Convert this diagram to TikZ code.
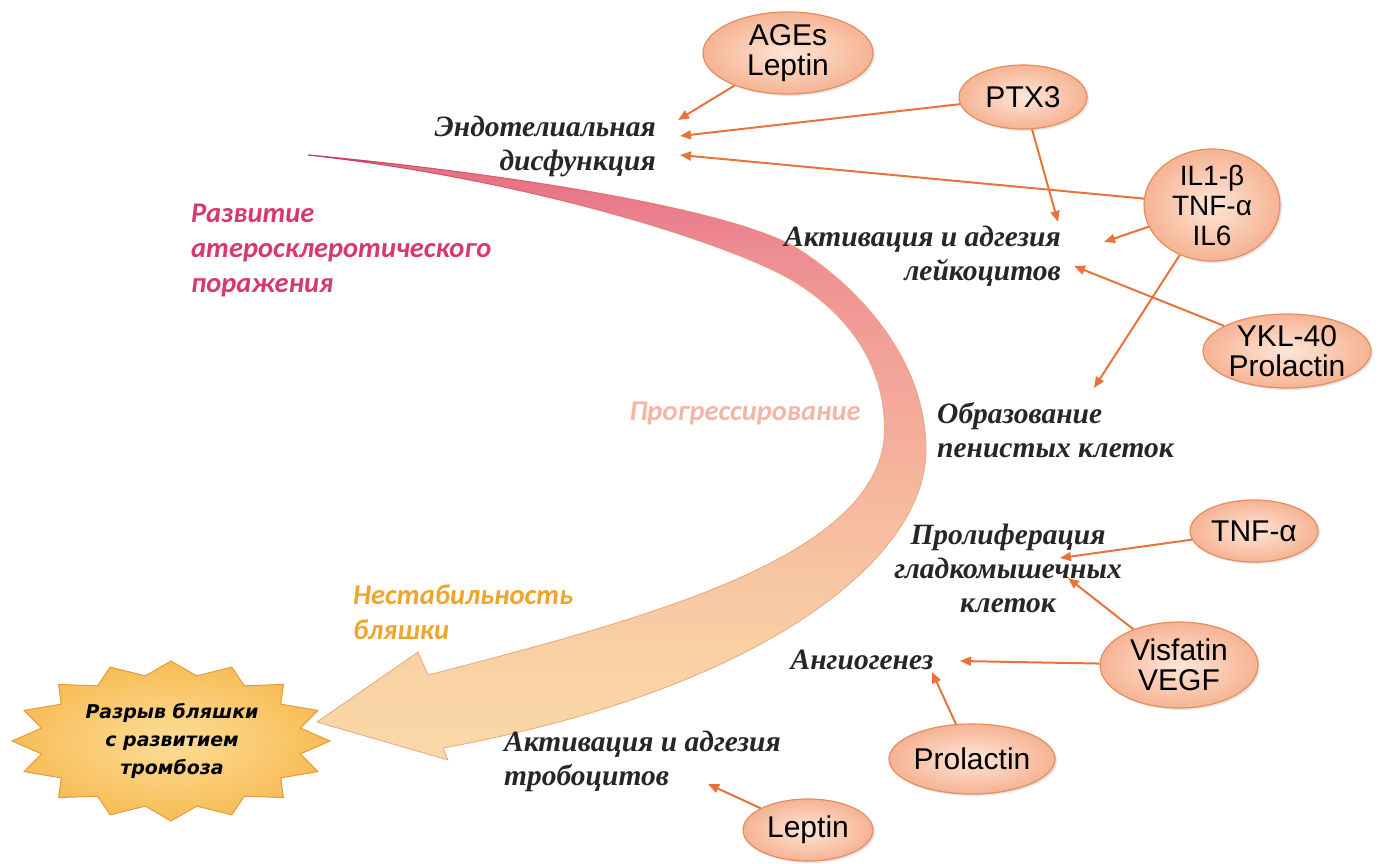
\documentclass[tikz,border=0pt]{standalone}
\usepackage{fontspec}
\setmainfont{Liberation Serif}
\setsansfont{Liberation Sans}
\newfontfamily\phasefont{Carlito}
\newfontfamily\burstfont{DejaVu Sans}
\usetikzlibrary{shapes.geometric,arrows.meta,shadows,fadings}
\definecolor{linkorange}{HTML}{E8733A}
\definecolor{rimorange}{HTML}{E38E62}
\definecolor{peachlight}{HTML}{FDE6D8}
\definecolor{peachdark}{HTML}{F6B393}
\definecolor{arcA}{HTML}{E66A82}
\definecolor{arcB}{HTML}{EE8C93}
\definecolor{arcC}{HTML}{F2A198}
\definecolor{arcD}{HTML}{F5B09C}
\definecolor{arcE}{HTML}{F7C3A1}
\definecolor{arcF}{HTML}{F9D0A4}
\definecolor{arcG}{HTML}{FAD9A8}
\definecolor{arcrim}{HTML}{EAA67E}
\definecolor{arccrimson}{HTML}{C83562}
\definecolor{burstlight}{HTML}{FDDD98}
\definecolor{burstdark}{HTML}{F7BC55}
\definecolor{burstrim}{HTML}{E59A3C}
\definecolor{devpink}{HTML}{D8386B}
\definecolor{progpink}{HTML}{F4B6A4}
\definecolor{instorange}{HTML}{EFA52C}
\pgfdeclareverticalshading{arcshade}{100bp}{color(0bp)=(arcG); color(25bp)=(arcG); color(34bp)=(arcF); color(41.5bp)=(arcE); color(50.6bp)=(arcD); color(58.9bp)=(arcC); color(67.1bp)=(arcB); color(75bp)=(arcA); color(100bp)=(arcA)}
\begin{document}
\begin{tikzpicture}[x=1pt,y=-1pt]
	\tikzstyle{factor}=[ellipse,draw=rimorange,line width=1.2pt,inner color=peachlight,outer color=peachdark,text=black,align=center,inner sep=0pt,font=\sffamily\fontsize{30}{30}\selectfont,drop shadow={opacity=0.2,shadow xshift=2pt,shadow yshift=-2pt}] % factor = marker ellipse
	\tikzstyle{stage}=[align=center,inner sep=1pt,text=black!85,font=\bfseries\itshape\fontsize{29.5}{34}\selectfont] % stage = process step
	\tikzstyle{phase}=[align=left,inner sep=1pt,font=\phasefont\bfseries\itshape\fontsize{28.5}{35}\selectfont] % phase = stage of lesion
	\tikzstyle{link}=[draw=linkorange,line width=2pt,-{Triangle[length=11pt,width=9pt]}]
	\useasboundingbox (0,0) rectangle (1385,863);

	% big curved arrow
	\shade[shading=arcshade,draw=arcrim,line width=0.8pt]
		(308,155) .. controls (520,175) and (740,211) .. (800,250)
		.. controls (860,289) and (926,360) .. (926,450)
		.. controls (926,560) and (760,690) .. (443,748)
		-- (448,760) -- (317,722) -- (418,652) -- (428,675)
		.. controls (640,620) and (870,560) .. (884,440)
		.. controls (889,368) and (848,312) .. (788,278)
		.. controls (720,240) and (520,178) .. (308,155) -- cycle;
	\draw[arccrimson,line width=1.1pt,path fading=east] (800,250) .. controls (740,211) and (520,175) .. (308,155)
		.. controls (520,178) and (720,240) .. (788,278);

	% starburst
	\shade[inner color=burstlight,outer color=burstdark,draw=burstrim,line width=1pt]
		plot[samples at={0,...,31}] ({171+159*(1-0.17*mod(\x,2))*cos(\x*11.25)},{741+80*(1-0.17*mod(\x,2))*sin(\x*11.25)}) -- cycle;
	\node(rupture)[align=center,font=\burstfont\bfseries\itshape\fontsize{19}{28}\selectfont] at (172,741) {Разрыв бляшки\\с развитием\\тромбоза};

	% phases
	\node(develop)[phase,text=devpink,anchor=west] at (190,250) {Развитие\\атеросклеротического\\поражения};
	\node(progress)[phase,text=progpink] at (745,413) {Прогрессирование};
	\node(unstable)[phase,text=instorange,anchor=west] at (352,612) {Нестабильность\\бляшки};

	% stages
	\node(endo)[stage,align=right,anchor=east] at (657,146) {Эндотелиальная\\дисфункция};
	\node(leuko)[stage,align=right,anchor=east] at (1062,256) {Активация и адгезия\\лейкоцитов};
	\node(foam)[stage,align=left,anchor=west] at (936,430) {Образование\\пенистых клеток};
	\node(prolif)[stage] at (1008,568) {Пролиферация\\гладкомышечных\\клеток};
	\node(angio)[stage] at (862,660) {Ангиогенез};
	\node(platelet)[stage,align=left,anchor=west] at (503,761) {Активация и адгезия\\тробоцитов};

	% factors
	\node(ages)[factor,minimum width=170pt,minimum height=82pt] at (788,53) {AGEs\\Leptin};
	\node(ptx)[factor,minimum width=128pt,minimum height=64pt] at (1023,97) {PTX3};
	\node(il)[factor,minimum width=136pt,minimum height=112pt,inner ysep=-10pt,font=\sffamily\fontsize{28}{30}\selectfont] at (1212,205) {IL1-β\\TNF-α\\IL6};
	\node(ykl)[factor,minimum width=168pt,minimum height=74pt] at (1287,351) {YKL-40\\Prolactin};
	\node(tnf)[factor,minimum width=128pt,minimum height=62pt] at (1254,531) {TNF-α};
	\node(visf)[factor,minimum width=158pt,minimum height=86pt] at (1179,665) {Visfatin\\VEGF};
	\node(prl)[factor,minimum width=166pt,minimum height=70pt] at (972,759) {Prolactin};
	\node(lep)[factor,minimum width=130pt,minimum height=62pt] at (808,830) {Leptin};

	% arrow ends
	\coordinate(endoA) at (678,120);
	\coordinate(endoB) at (680,136);
	\coordinate(endoC) at (680,155);
	\coordinate(leukoA) at (1058,222);
	\coordinate(leukoB) at (1104,242);
	\coordinate(leukoC) at (1074,266);
	\coordinate(foamA) at (1094,388);
	\coordinate(prolifA) at (1060,558);
	\coordinate(prolifB) at (1068,578);
	\coordinate(angioA) at (960,661);
	\coordinate(angioB) at (932,672);
	\coordinate(plateletA) at (708,784);

	\draw[link] (ages) -- (endoA);
	\draw[link] (ptx) -- (endoB);
	\draw[link] (il) -- (endoC);
	\draw[link] (ptx) -- (leukoA);
	\draw[link] (il) -- (leukoB);
	\draw[link] (ykl) -- (leukoC);
	\draw[link] (il) -- (foamA);
	\draw[link] (tnf) -- (prolifA);
	\draw[link] (visf) -- (prolifB);
	\draw[link] (visf) -- (angioA);
	\draw[link] (prl) -- (angioB);
	\draw[link] (lep) -- (plateletA);
\end{tikzpicture}
\end{document}
